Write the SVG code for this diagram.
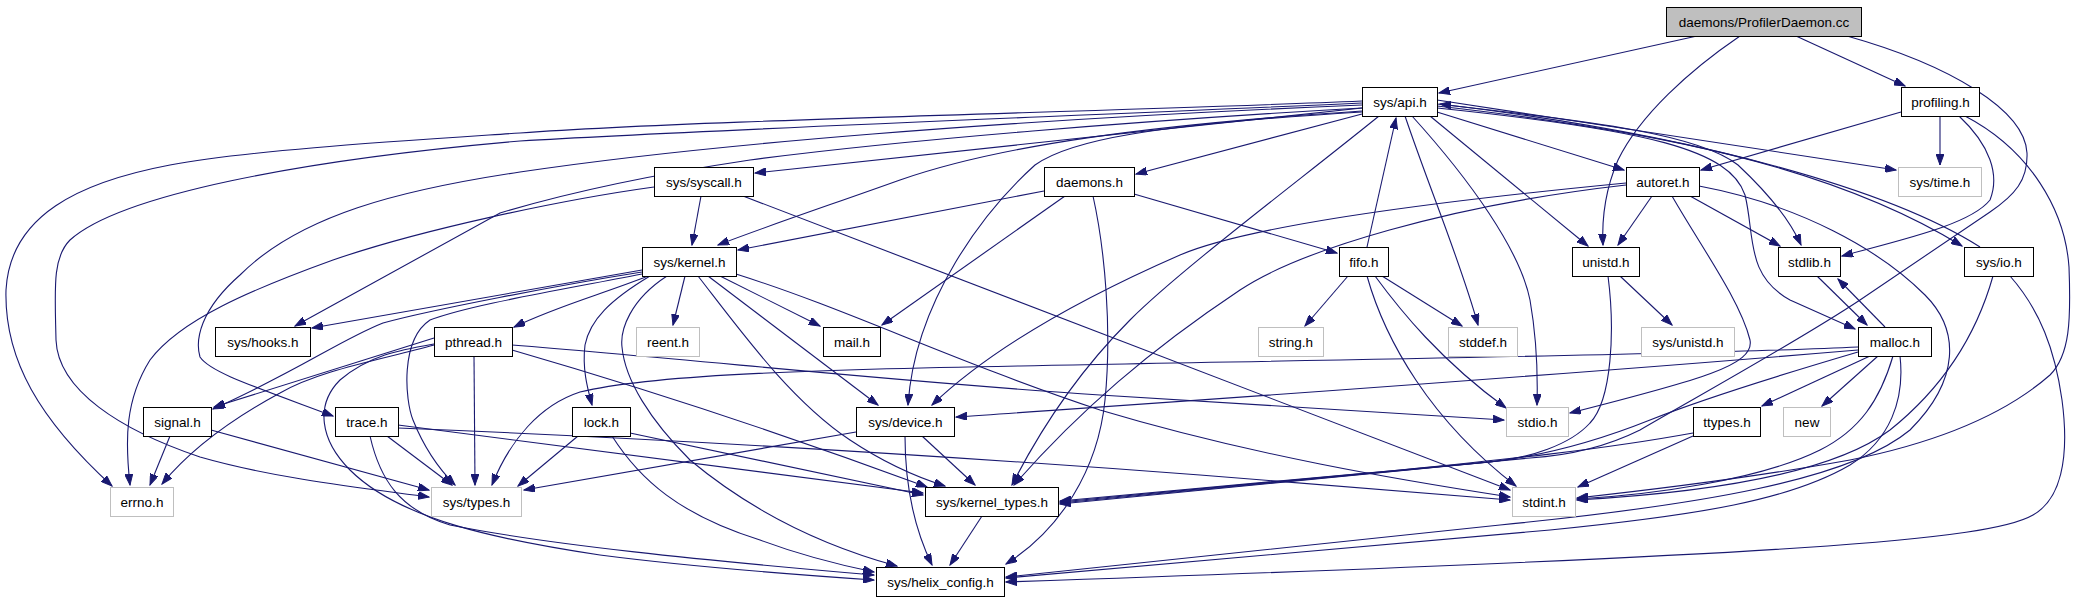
<svg xmlns="http://www.w3.org/2000/svg" width="2075" height="603" viewBox="0 0 2075 603">
<style>
.e{fill:none;stroke:#191970;stroke-width:1.1;marker-end:url(#a)}
.n rect{fill:#fff;stroke:#000;stroke-width:1}
.g rect{fill:#fff;stroke:#bfbfbf;stroke-width:1}
text{font-family:"Liberation Sans",Arial,sans-serif;font-size:13.5px;fill:#000;text-anchor:middle}
</style>
<defs>
<marker id="a" markerWidth="12" markerHeight="8" refX="11" refY="4" orient="auto" markerUnits="userSpaceOnUse"><path d="M0,0 L11,4 L0,8 z" fill="#191970" stroke="#191970" stroke-width="1"/></marker>
</defs>
<rect width="2075" height="603" fill="#fff"/>
<g id="edges">
<path class="e" d="M1697,36 L1439,93"/>
<path class="e" d="M1740,36 C1690,70 1640,115 1618,160 C1603,195 1602,225 1603,245"/>
<path class="e" d="M1796,36 L1905,86"/>
<path class="e" d="M1847,36 C1950,65 2025,110 2027,153 C2028,180 2015,195 1990,212 L1860,300 C1800,340 1700,395 1640,430 C1600,450 1560,456 1530,458 L1060,502"/>
<path class="e" d="M1362,101 C1100,112 700,120 520,133 C400,141 250,150 170,165 C80,182 10,215 6,290 C4,360 40,420 112,486"/>
<path class="e" d="M1362,103 C1050,117 700,130 520,141 C300,160 120,195 70,240 C52,258 55,290 56,340 C58,390 120,430 200,457 C280,480 380,490 429,497"/>
<path class="e" d="M1362,105 C1000,120 700,145 520,172 C400,190 300,215 240,275 C200,310 195,340 200,357 C210,372 250,385 333,416"/>
<path class="e" d="M1362,108 C1150,120 900,140 750,160 C650,175 560,195 500,213 L295,326"/>
<path class="e" d="M1362,108 L755,173"/>
<path class="e" d="M1362,111 C1150,125 1000,145 900,180 C830,205 770,225 718,245"/>
<path class="e" d="M1362,112 C1150,125 1070,140 1035,165 C985,210 915,300 908,405"/>
<path class="e" d="M1362,114 L1136,174"/>
<path class="e" d="M1379,116 C1300,180 1180,270 1130,320 C1080,370 1040,430 1012,485"/>
<path class="e" d="M1367,247 L1396,118"/>
<path class="e" d="M1405,116 C1430,190 1460,260 1478,325"/>
<path class="e" d="M1412,116 C1470,180 1520,250 1530,300 C1537,340 1538,370 1537,405"/>
<path class="e" d="M1430,116 L1588,246"/>
<path class="e" d="M1437,112 L1624,170"/>
<path class="e" d="M1437,100 L1896,170"/>
<path class="e" d="M1437,104 C1600,122 1700,135 1738,165 C1770,195 1790,220 1801,245"/>
<path class="e" d="M1437,106 C1650,130 1830,165 1962,246"/>
<path class="e" d="M1980,247 C1890,190 1700,135 1440,104"/>
<path class="e" d="M1437,108 C1650,130 1730,150 1745,195 C1755,235 1745,275 1790,300 L1855,329"/>
<path class="e" d="M1901,112 L1701,170"/>
<path class="e" d="M1940,116 L1940,165"/>
<path class="e" d="M1959,116 C1990,145 2000,175 1990,200 C1970,225 1900,240 1842,256"/>
<path class="e" d="M1965,116 C2030,150 2065,210 2069,267 C2071,320 2070,355 2050,375 C2010,410 1950,440 1850,460 C1750,478 1650,490 1577,498"/>
<path class="e" d="M701,196 L692,245"/>
<path class="e" d="M654,187 C560,200 420,230 333,260 C250,290 180,320 150,360 C125,400 125,440 130,485"/>
<path class="e" d="M743,196 L1510,490"/>
<path class="e" d="M1044,191 L738,250"/>
<path class="e" d="M1065,196 L882,325"/>
<path class="e" d="M1093,196 C1105,250 1112,330 1105,400 C1098,470 1060,530 1006,564"/>
<path class="e" d="M1134,194 L1337,253"/>
<path class="e" d="M1652,196 L1618,245"/>
<path class="e" d="M1690,196 L1780,246"/>
<path class="e" d="M1672,196 C1700,245 1740,300 1750,340 C1755,365 1700,380 1570,413"/>
<path class="e" d="M1626,183 C1450,200 1250,225 1180,255 C1100,290 1000,340 932,405"/>
<path class="e" d="M1626,185 C1450,205 1300,250 1240,290 C1150,350 1080,410 1014,485"/>
<path class="e" d="M1699,186 C1800,205 1880,250 1925,295 C1960,330 1960,380 1910,430 C1850,480 1700,505 1500,525 L1006,577"/>
<path class="e" d="M1348,276 L1305,326"/>
<path class="e" d="M1382,276 L1462,326"/>
<path class="e" d="M1375,276 C1400,310 1440,360 1506,408"/>
<path class="e" d="M1367,276 C1385,340 1430,420 1516,486"/>
<path class="e" d="M1620,276 L1672,325"/>
<path class="e" d="M1608,276 C1615,330 1612,400 1590,423 C1570,445 1530,458 1490,462 L1060,503"/>
<path class="e" d="M1817,276 L1867,325"/>
<path class="e" d="M1885,327 L1838,279"/>
<path class="e" d="M1858,347 C1700,355 1200,362 1020,366 C800,370 650,375 580,392 C540,405 510,440 492,485"/>
<path class="e" d="M1858,350 C1500,380 1200,400 956,417"/>
<path class="e" d="M1858,352 C1780,375 1700,400 1650,420 C1600,440 1550,455 1490,462 L1060,504"/>
<path class="e" d="M1870,356 L1762,406"/>
<path class="e" d="M1878,356 L1822,406"/>
<path class="e" d="M1893,356 C1880,400 1860,430 1820,450 C1760,480 1650,495 1577,499"/>
<path class="e" d="M1900,356 C1905,400 1890,440 1850,465 C1790,500 1700,515 1550,530 L1006,578"/>
<path class="e" d="M1693,436 L1578,487"/>
<path class="e" d="M1693,433 C1600,450 1500,460 1400,470 L1060,501"/>
<path class="e" d="M1993,276 C1975,340 1940,390 1890,430 C1830,475 1700,493 1577,500"/>
<path class="e" d="M2010,276 C2040,310 2055,350 2062,400 C2070,460 2060,500 2033,515 C1990,540 1800,555 1006,582"/>
<path class="e" d="M642,270 L312,328"/>
<path class="e" d="M642,272 C560,285 430,310 383,323 C340,340 300,370 213,409"/>
<path class="e" d="M642,274 C550,292 470,305 430,320 C400,340 405,400 413,420 C425,450 440,470 455,485"/>
<path class="e" d="M648,276 C600,295 560,305 514,327"/>
<path class="e" d="M650,276 C610,300 590,320 585,345 C582,370 588,390 592,405"/>
<path class="e" d="M667,276 C630,300 620,330 622,347 C625,380 650,420 690,460 C750,510 820,545 897,566"/>
<path class="e" d="M685,276 L673,325"/>
<path class="e" d="M698,276 C740,330 790,400 850,440 C880,460 910,475 945,486"/>
<path class="e" d="M708,276 L878,405"/>
<path class="e" d="M720,276 L820,326"/>
<path class="e" d="M736,274 C850,310 950,360 1100,410 C1250,455 1400,480 1510,497"/>
<path class="e" d="M434,338 L214,407"/>
<path class="e" d="M434,345 C380,360 320,370 280,393 C230,420 190,450 162,484"/>
<path class="e" d="M474,356 L475,485"/>
<path class="e" d="M434,344 C400,350 370,355 340,380 C315,405 320,440 350,470 C400,520 500,540 600,555 C700,568 800,575 874,580"/>
<path class="e" d="M512,345 C700,360 900,382 1100,395 C1250,405 1400,413 1504,420"/>
<path class="e" d="M512,350 C650,390 800,440 927,487"/>
<path class="e" d="M170,436 L150,485"/>
<path class="e" d="M211,430 L429,490"/>
<path class="e" d="M387,436 L452,485"/>
<path class="e" d="M398,425 L923,493"/>
<path class="e" d="M398,428 C700,440 1000,460 1200,475 C1350,487 1450,495 1510,500"/>
<path class="e" d="M370,436 C380,480 400,510 450,525 C550,545 700,560 874,575"/>
<path class="e" d="M578,436 L518,486"/>
<path class="e" d="M630,433 L923,495"/>
<path class="e" d="M612,436 C640,480 680,515 760,540 C800,555 840,565 874,572"/>
<path class="e" d="M856,432 L524,490"/>
<path class="e" d="M922,436 L975,485"/>
<path class="e" d="M905,436 C905,490 915,530 932,565"/>
<path class="e" d="M982,516 L950,565"/>
</g>
<g id="n_pd" class="n"><rect x="1666.5" y="7.5" width="195" height="29" style="fill:#bfbfbf"/><text x="1764" y="26.5">daemons/ProfilerDaemon.cc</text></g>
<g id="n_api" class="n"><rect x="1362.5" y="87.5" width="75" height="29"/><text x="1400" y="106.5">sys/api.h</text></g>
<g id="n_profiling" class="n"><rect x="1901.5" y="87.5" width="78" height="29"/><text x="1940.5" y="106.5">profiling.h</text></g>
<g id="n_syscall" class="n"><rect x="654.5" y="167.5" width="99" height="29"/><text x="704" y="186.5">sys/syscall.h</text></g>
<g id="n_daemons" class="n"><rect x="1044.5" y="167.5" width="90" height="29"/><text x="1089.5" y="186.5">daemons.h</text></g>
<g id="n_autoret" class="n"><rect x="1626.5" y="167.5" width="73" height="29"/><text x="1663" y="186.5">autoret.h</text></g>
<g id="n_time" class="g"><rect x="1898.5" y="167.5" width="83" height="29"/><text x="1940" y="186.5">sys/time.h</text></g>
<g id="n_kernel" class="n"><rect x="642.5" y="247.5" width="94" height="29"/><text x="689.5" y="266.5">sys/kernel.h</text></g>
<g id="n_fifo" class="n"><rect x="1339.5" y="247.5" width="49" height="29"/><text x="1364" y="266.5">fifo.h</text></g>
<g id="n_unistd" class="n"><rect x="1572.5" y="247.5" width="67" height="29"/><text x="1606" y="266.5">unistd.h</text></g>
<g id="n_stdlib" class="n"><rect x="1778.5" y="247.5" width="62" height="29"/><text x="1809.5" y="266.5">stdlib.h</text></g>
<g id="n_io" class="n"><rect x="1964.5" y="247.5" width="69" height="29"/><text x="1999" y="266.5">sys/io.h</text></g>
<g id="n_hooks" class="n"><rect x="215.5" y="327.5" width="95" height="29"/><text x="263" y="346.5">sys/hooks.h</text></g>
<g id="n_pthread" class="n"><rect x="434.5" y="327.5" width="78" height="29"/><text x="473.5" y="346.5">pthread.h</text></g>
<g id="n_reent" class="g"><rect x="636.5" y="327.5" width="63" height="29"/><text x="668" y="346.5">reent.h</text></g>
<g id="n_mail" class="n"><rect x="823.5" y="327.5" width="57" height="29"/><text x="852" y="346.5">mail.h</text></g>
<g id="n_string" class="g"><rect x="1258.5" y="327.5" width="65" height="29"/><text x="1291" y="346.5">string.h</text></g>
<g id="n_stddef" class="g"><rect x="1448.5" y="327.5" width="69" height="29"/><text x="1483" y="346.5">stddef.h</text></g>
<g id="n_sysunistd" class="g"><rect x="1641.5" y="327.5" width="93" height="29"/><text x="1688" y="346.5">sys/unistd.h</text></g>
<g id="n_malloc" class="n"><rect x="1858.5" y="327.5" width="73" height="29"/><text x="1895" y="346.5">malloc.h</text></g>
<g id="n_signal" class="n"><rect x="143.5" y="407.5" width="68" height="29"/><text x="177.5" y="426.5">signal.h</text></g>
<g id="n_trace" class="n"><rect x="335.5" y="407.5" width="63" height="29"/><text x="367" y="426.5">trace.h</text></g>
<g id="n_lock" class="n"><rect x="572.5" y="407.5" width="58" height="29"/><text x="601.5" y="426.5">lock.h</text></g>
<g id="n_device" class="n"><rect x="856.5" y="407.5" width="98" height="29"/><text x="905.5" y="426.5">sys/device.h</text></g>
<g id="n_stdio" class="g"><rect x="1506.5" y="407.5" width="62" height="29"/><text x="1537.5" y="426.5">stdio.h</text></g>
<g id="n_ttypes" class="n"><rect x="1693.5" y="407.5" width="67" height="29"/><text x="1727" y="426.5">ttypes.h</text></g>
<g id="n_new" class="g"><rect x="1783.5" y="407.5" width="47" height="29"/><text x="1807" y="426.5">new</text></g>
<g id="n_errno" class="g"><rect x="110.5" y="487.5" width="63" height="29"/><text x="142" y="506.5">errno.h</text></g>
<g id="n_types" class="g"><rect x="431.5" y="487.5" width="90" height="29"/><text x="476.5" y="506.5">sys/types.h</text></g>
<g id="n_ktypes" class="n"><rect x="925.5" y="487.5" width="133" height="29"/><text x="992" y="506.5">sys/kernel_types.h</text></g>
<g id="n_stdint" class="g"><rect x="1512.5" y="487.5" width="63" height="29"/><text x="1544" y="506.5">stdint.h</text></g>
<g id="n_helix" class="n"><rect x="876.5" y="567.5" width="128" height="29"/><text x="940.5" y="586.5">sys/helix_config.h</text></g>
</svg>
